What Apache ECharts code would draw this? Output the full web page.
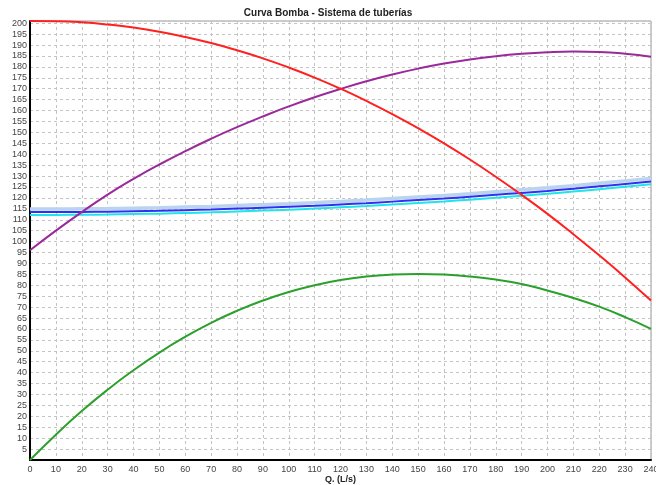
<!DOCTYPE html>
<html>
<head>
<meta charset="utf-8">
<script src="https://cdn.jsdelivr.net/npm/echarts@6/dist/echarts.min.js"></script>
<style>html,body{margin:0;padding:0;background:#fff;}#c{width:656px;height:485px;}</style>
</head>
<body>
<div id="c"></div>
<script>
var Q = [0,10,20,30,40,50,60,70,80,90,100,110,120,130,140,150,160,170,180,190,200,210,220,230,240];
var bomba = [201,200.9,200.4,199.4,198,196.1,193.7,190.9,187.6,183.9,179.7,175.1,170,164.4,158.4,151.9,145,137.6,129.7,121.4,112.7,103.4,93.7,83.6,73];
var eficiencia = [96,105,113.5,121.5,128.7,135.3,141.4,147.1,152.4,157.3,161.9,166.1,169.9,173.4,176.5,179.2,181.5,183.4,184.9,186,186.7,187,186.8,186,184.6];
var potencia = [0,11.6,22.4,32.2,41.1,49.2,56.4,62.8,68.3,73,76.9,80,82.4,84,84.9,85.2,84.9,84,82.6,80.6,77.6,74.2,70.2,65.4,60];
var sistema = [113.5,113.5,113.6,113.7,113.9,114.1,114.4,114.7,115.1,115.5,115.9,116.4,117,117.6,118.3,119,119.7,120.5,121.4,122.3,123.2,124.2,125.3,126.4,127.5];
var sistemaMin = [112.2,112.2,112.3,112.4,112.6,112.8,113.1,113.4,113.8,114.2,114.6,115.1,115.7,116.3,117,117.7,118.4,119.2,120.1,121,121.9,122.9,124,125.1,126.2];
var sistemaMax = [114.9,114.9,115,115.1,115.3,115.5,115.8,116.1,116.5,116.9,117.3,117.8,118.4,119,119.7,120.4,121.1,121.9,122.8,123.7,124.6,125.6,126.7,127.8,128.9];

function pairs(v){ return Q.map(function(q,i){ return [q, v[i]]; }); }
function line(name, v, color, width){
  return {name:name, type:'line', data:pairs(v), smooth:true, symbol:'none',
    lineStyle:{color:color, width:width}, silent:true, animation:false};
}
var chart = echarts.init(document.getElementById('c'));
chart.setOption({
  animation:false,
  title:{text:'Curva Bomba - Sistema de tuberías', left:'center', top:3,
    textStyle:{fontSize:10, fontWeight:'bold', color:'#222', fontFamily:'Liberation Sans'}},
  grid:{left:30, right:5, top:21, bottom:25, show:true, borderColor:'#999', borderWidth:1,
    containLabel:false, outerBoundsMode:'none'},
  xAxis:{type:'value', min:0, max:240, interval:10,
    name:'Q. (L/s)', nameLocation:'middle', nameGap:15, nameMoveOverlap:false,
    nameTextStyle:{fontSize:9, fontWeight:'bold', color:'#222', fontFamily:'Liberation Sans'},
    axisLine:{show:true, onZero:false, lineStyle:{color:'#000', width:2}},
    axisTick:{show:false},
    axisLabel:{fontSize:9, color:'#444', margin:5, fontFamily:'Liberation Sans'},
    splitLine:{show:true, lineStyle:{color:'#c4c4c4', type:[3,3], width:1}}},
  yAxis:{type:'value', min:0, max:201, interval:5,
    axisLine:{show:true, lineStyle:{color:'#000', width:2}},
    axisTick:{show:false},
    axisLabel:{fontSize:9, color:'#444', margin:3, showMinLabel:false, showMaxLabel:false, fontFamily:'Liberation Sans'},
    splitLine:{show:true, lineStyle:{color:'#c4c4c4', type:[3,3], width:1}}},
  series:[
    line('Sistema max', sistemaMax, '#b9d3f0', 3.5),
    line('Sistema min', sistemaMin, '#22e3ea', 2),
    line('Sistema', sistema, '#3030f0', 2),
    line('Potencia', potencia, '#2ba02b', 2),
    line('Eficiencia', eficiencia, '#9a2a9a', 2),
    line('Bomba', bomba, '#ff2020', 2)
  ]
});
</script>
</body>
</html>
